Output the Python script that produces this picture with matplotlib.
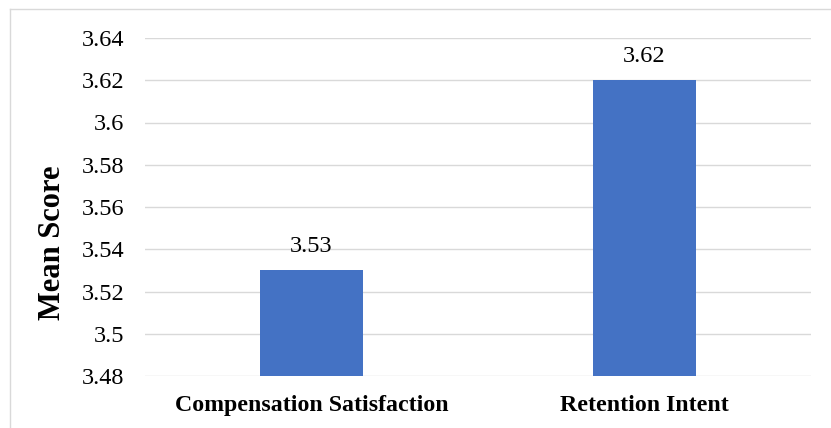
import matplotlib
matplotlib.use("Agg")
import matplotlib.pyplot as plt
from matplotlib.lines import Line2D

categories = ["Compensation Satisfaction", "Retention Intent"]
values = [3.53, 3.62]
yticks = [3.48, 3.50, 3.52, 3.54, 3.56, 3.58, 3.60, 3.62, 3.64]
ytick_labels = ["3.48", "3.5", "3.52", "3.54", "3.56", "3.58", "3.6", "3.62", "3.64"]

plt.rcParams['font.family'] = ['Liberation Serif', 'DejaVu Serif']

W, H = 831, 428
fig = plt.figure(figsize=(W / 100, H / 100), dpi=100)
ax = fig.add_axes([145 / W, 1 - 376 / H, (811 - 145) / W, (376 - 38) / H])

x = list(range(len(categories)))
ax.bar(x, values, width=0.312, color="#4472C4", zorder=3)
ax.set_xlim(-0.5, len(categories) - 0.5)
ax.set_ylim(3.48, 3.64)
ax.set_yticks(yticks)
ax.set_yticklabels(ytick_labels, fontsize=17.5)
ax.set_xticks(x)
ax.set_xticklabels(categories, fontsize=17.2, fontweight="bold")
ax.tick_params(axis="y", length=0, pad=15)
ax.tick_params(axis="x", length=0, pad=14)
ax.grid(axis="y", color="#d9d9d9", linewidth=1.0, zorder=0)
for s in ax.spines.values():
    s.set_visible(False)

for xi, v in zip(x, values):
    ax.annotate(f"{v:.2f}", (xi, v), xytext=(0, 9.5), textcoords="offset points",
                ha="center", va="bottom", fontsize=17.5)

fig.text(53 / W, 1 - 243 / H, "Mean Score", rotation=90, ha="center", va="center",
         fontsize=22, fontweight="bold")

# outer chart border (left and top visible)
bx, by = 10 / W, 1 - 9 / H
fig.add_artist(Line2D([bx, bx], [0, by], transform=fig.transFigure, color="#d9d9d9", linewidth=1.0))
fig.add_artist(Line2D([bx, 1], [by, by], transform=fig.transFigure, color="#d9d9d9", linewidth=1.0))

fig.savefig("out.png", dpi=100)
